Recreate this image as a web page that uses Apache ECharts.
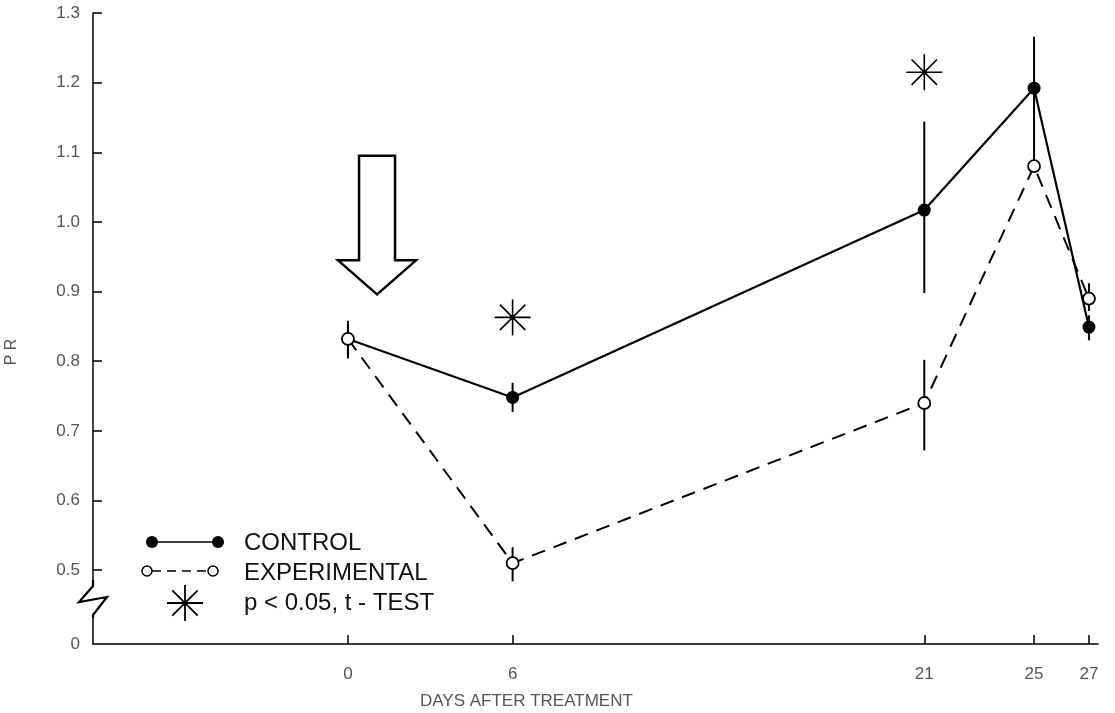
<!DOCTYPE html>
<html>
	<head>
		<meta charset="utf-8">
		<title>PR after treatment</title>
		<style>
html, body {
	width: 100%;
	height: 100%;
	margin: 0;
	background: #fff;
}
#box1 {
	width: 1115px;
	height: 713px;
}
		</style>
	</head>
	<body>
		<div id="box1"></div>
	</body>
	<script src="https://cdn.jsdelivr.net/npm/echarts@6/dist/echarts.min.js"></script>
	<script type="text/javascript">
// data
var days = [0, 6, 21, 25, 27];
var controlMean = [0.832, 0.748, 1.017, 1.192, 0.849];
var controlLow = [0.804, 0.727, 0.898, 1.192, 0.83];
var controlHigh = [0.858, 0.769, 1.144, 1.266, 0.866];
var expMean = [0.832, 0.51, 0.74, 1.08, 0.89];
var expLow = [0.806, 0.484, 0.672, 1.08, 0.872];
var expHigh = [0.856, 0.533, 0.802, 1.192, 0.912];
var sigDays = [6, 21];
var sigValues = [0.863, 1.215];
var arrowDay = [1.06];
var arrowTop = [1.095];
var arrowTip = [0.896];
var xTicks = [0, 6, 21, 25, 27];
var yTicks = [0.5, 0.6, 0.7, 0.8, 0.9, 1.0, 1.1, 1.2, 1.3];
var yLabels = [0.394, 0.5, 0.6, 0.7, 0.8, 0.9, 1.0, 1.1, 1.2, 1.3];

var myChart = echarts.init(document.getElementById('box1'));

function pairs(xs, ys) {
	return xs.map(function (x, i) { return [x, ys[i]]; });
}
function bars(xs, lo, hi) {
	return xs.map(function (x, i) { return [x, lo[i], hi[i]]; });
}

function renderBar(params, api) {
	var a = api.coord([api.value(0), api.value(1)]);
	var b = api.coord([api.value(0), api.value(2)]);
	return {
		type: 'line',
		shape: { x1: a[0], y1: a[1], x2: b[0], y2: b[1] },
		style: { stroke: '#000', lineWidth: 2 }
	};
}

function starShape(cx, cy, r, w) {
	var kids = [];
	for (var k = 0; k < 4; k++) {
		var ang = k * Math.PI / 4;
		var dx = Math.cos(ang) * r, dy = Math.sin(ang) * r;
		kids.push({
			type: 'line',
			shape: { x1: cx - dx, y1: cy - dy, x2: cx + dx, y2: cy + dy },
			style: { stroke: '#000', lineWidth: w }
		});
	}
	kids.push({ type: 'circle', shape: { cx: cx, cy: cy, r: 2.5 }, style: { fill: '#000' } });
	return kids;
}

function renderStar(params, api) {
	var p = api.coord([api.value(0), api.value(1)]);
	return { type: 'group', children: starShape(p[0], p[1], 18, 1.6) };
}

function renderArrow(params, api) {
	var top = api.coord([api.value(0), api.value(1)]);
	var tip = api.coord([api.value(0), api.value(2)]);
	var cx = top[0];
	var sw = 18, hw = 39, hh = 34;
	var pts = [
		[cx - sw, top[1]], [cx + sw, top[1]], [cx + sw, tip[1] - hh],
		[cx + hw, tip[1] - hh], [cx, tip[1]], [cx - hw, tip[1] - hh],
		[cx - sw, tip[1] - hh]
	];
	return {
		type: 'polygon',
		shape: { points: pts },
		style: { fill: '#fff', stroke: '#000', lineWidth: 2.5 }
	};
}

var fam = 'Liberation Sans, Arial, sans-serif';
var labelFont = { color: '#555', fontSize: 17, fontFamily: fam };

var option = {
	backgroundColor: '#fff',
	animation: false,
	grid: { left: 93, right: 17, top: 13, bottom: 69 },
	xAxis: {
		type: 'value',
		min: -9.29,
		max: 27.33,
		splitLine: { show: false },
		axisLine: { onZero: false, lineStyle: { color: '#000', width: 1.5 } },
		axisTick: { customValues: xTicks, inside: true, length: 9, lineStyle: { color: '#000', width: 1.5 } },
		axisLabel: Object.assign({ customValues: xTicks, margin: 22 }, labelFont)
	},
	yAxis: {
		type: 'value',
		min: 0.394,
		max: 1.3,
		splitLine: { show: false },
		axisLine: { show: true, onZero: false, lineStyle: { color: '#000', width: 1.5 } },
		axisTick: { customValues: yTicks, inside: true, length: 9, lineStyle: { color: '#000', width: 1.5 } },
		axisLabel: Object.assign({
			customValues: yLabels,
			margin: 13,
			formatter: function (v) { return v < 0.45 ? '0' : v.toFixed(1); }
		}, labelFont)
	},
	graphic: [
		// axis break
		{ type: 'rect', shape: { x: 89, y: 582, width: 8, height: 34 }, style: { fill: '#fff' }, z: 100 },
		{ type: 'polyline', shape: { points: [[93, 580], [93, 586], [79, 602], [107, 597], [93, 615], [93, 618]] },
			style: { stroke: '#000', lineWidth: 2.2, fill: null }, z: 101 },
		// axis names
		{ type: 'text', x: 12, y: 352, rotation: Math.PI / 2,
			style: { text: 'P R', fill: '#555', font: '16px ' + fam, align: 'center', verticalAlign: 'middle' } },
		{ type: 'text', x: 420, y: 701,
			style: { text: 'DAYS AFTER TREATMENT', fill: '#555', font: '17px ' + fam, letterSpacing: 2, verticalAlign: 'middle' } },
		// legend
		{ type: 'line', shape: { x1: 152, y1: 542, x2: 218, y2: 542 }, style: { stroke: '#000', lineWidth: 1.5 } },
		{ type: 'circle', shape: { cx: 152, cy: 542, r: 6 }, style: { fill: '#000' } },
		{ type: 'circle', shape: { cx: 218, cy: 542, r: 6 }, style: { fill: '#000' } },
		{ type: 'text', x: 244, y: 543, style: { text: 'CONTROL', fill: '#111', font: '24px ' + fam, verticalAlign: 'middle' } },
		{ type: 'line', shape: { x1: 152, y1: 571, x2: 208, y2: 571 }, style: { stroke: '#000', lineWidth: 1.5, lineDash: [9, 6] } },
		{ type: 'circle', shape: { cx: 147, cy: 571, r: 5 }, style: { fill: '#fff', stroke: '#000', lineWidth: 1.5 } },
		{ type: 'circle', shape: { cx: 213, cy: 571, r: 5 }, style: { fill: '#fff', stroke: '#000', lineWidth: 1.5 } },
		{ type: 'text', x: 244, y: 573, style: { text: 'EXPERIMENTAL', fill: '#111', font: '24px ' + fam, verticalAlign: 'middle' } },
		{ type: 'group', children: starShape(185, 603, 18, 1.8) },
		{ type: 'text', x: 244, y: 603, style: { text: 'p < 0.05, t - TEST', fill: '#111', font: '24px ' + fam, verticalAlign: 'middle' } }
	],
	series: [
		{
			name: 'CONTROL',
			type: 'line',
			data: pairs(days, controlMean),
			symbol: 'circle',
			symbolSize: 13,
			itemStyle: { color: '#000' },
			lineStyle: { color: '#000', width: 2.2 },
			z: 3
		},
		{
			name: 'EXPERIMENTAL',
			type: 'line',
			data: pairs(days, expMean),
			symbol: 'circle',
			symbolSize: 12,
			itemStyle: { color: '#fff', borderColor: '#000', borderWidth: 1.8 },
			lineStyle: { color: '#000', width: 2, type: [14, 9] },
			z: 4
		},
		{ type: 'custom', data: bars(days, controlLow, controlHigh), renderItem: renderBar, z: 2 },
		{ type: 'custom', data: bars(days, expLow, expHigh), renderItem: renderBar, z: 2 },
		{ type: 'custom', data: pairs(sigDays, sigValues), renderItem: renderStar, z: 2 },
		{ type: 'custom', data: bars(arrowDay, arrowTop, arrowTip), renderItem: renderArrow, z: 2 }
	]
};

myChart.setOption(option);

window.addEventListener('resize', function () {
	myChart.resize();
});
	</script>
</html>
